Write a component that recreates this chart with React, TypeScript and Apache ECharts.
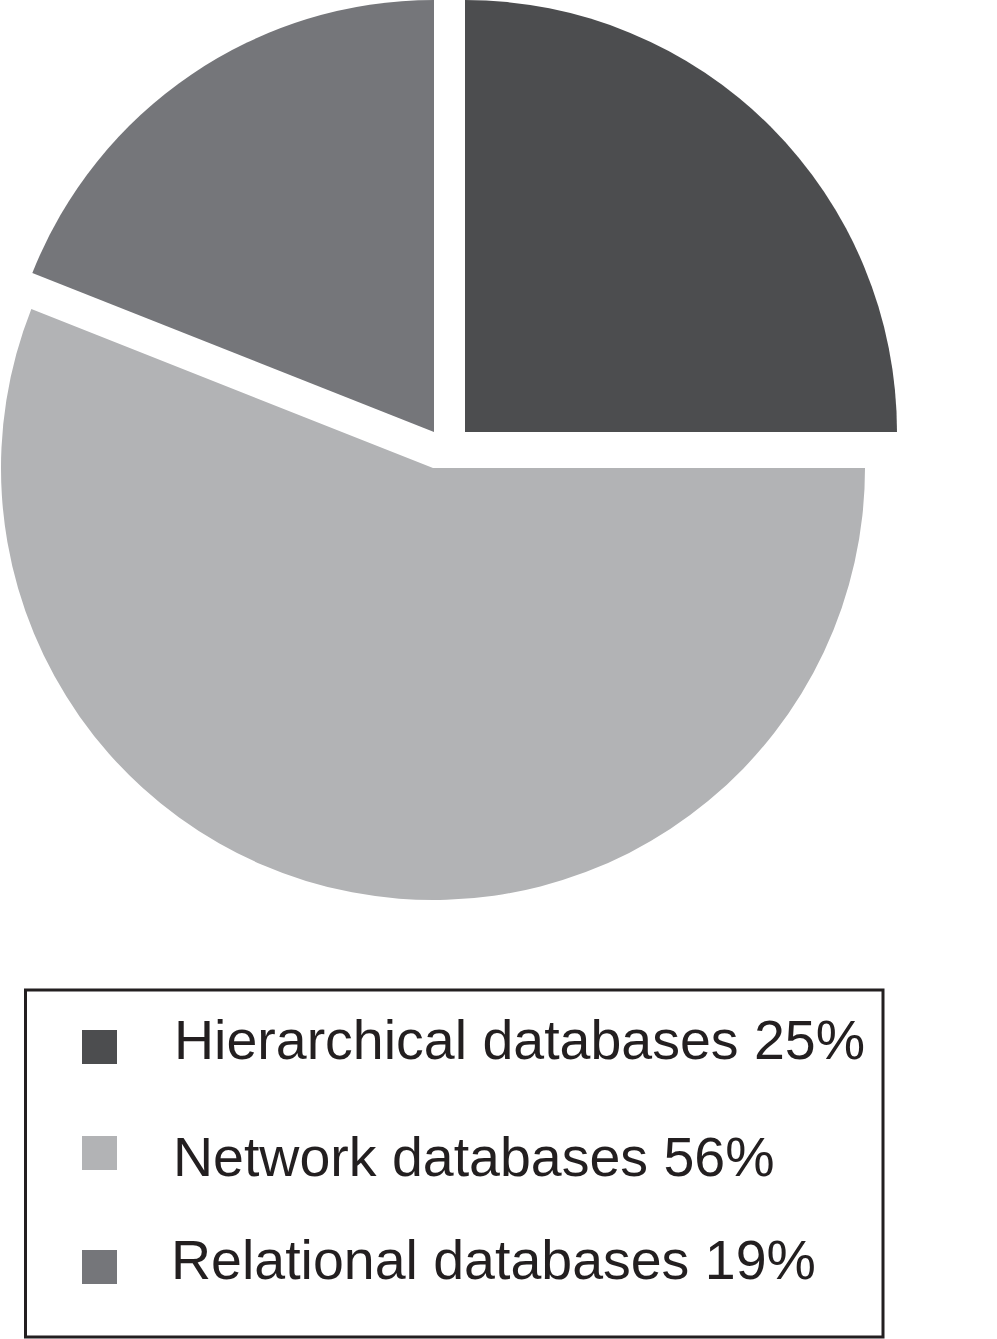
import React, { useEffect, useRef } from "react";
import * as echarts from "echarts";

const categories = ["Hierarchical databases", "Network databases", "Relational databases"];
const percents = [25, 56, 19];
const colors = ["#4c4d4f", "#b2b3b5", "#75767a"];
// each slice is pulled out of the pie on its own
const sliceCenters: [number, number][] = [[465, 432], [433, 468], [434, 432]];
// legend rows: the square sits a little off the text's middle in each row
const legendTops = [1003, 1120, 1223];
const legendIconHeights = [73, 73, 73];
const legendIcons = [
  "path://M0 0M0 73M0 27H35V61H0Z",
  "path://M0 0M0 73M0 16H35V50H0Z",
  "path://M0 0M0 73M0 27H35V61H0Z",
];
const legendTextPads = [52, 51, 49];

export default function App() {
  const ref = useRef<HTMLDivElement>(null);
  useEffect(() => {
    document.body.style.margin = "0";
    const chart = echarts.init(ref.current!, undefined, { renderer: "svg" });
    const series = categories.map((cat, i) => ({
      type: "pie",
      name: cat,
      center: sliceCenters[i],
      radius: [0, 432],
      startAngle: 90,
      clockwise: true,
      label: { show: false },
      labelLine: { show: false },
      emphasis: { disabled: true },
      data: percents.map((v, j) =>
        j === i
          ? { name: categories[j], value: v, itemStyle: { color: colors[j] } }
          : { name: "", value: v, itemStyle: { color: "rgba(0,0,0,0)" } }
      ),
    }));
    const legends = categories.map((cat, i) => ({
      show: true,
      data: [{ name: cat, icon: legendIcons[i], itemStyle: { color: colors[i] } }],
      left: 82,
      top: legendTops[i],
      padding: 0,
      itemWidth: 35,
      itemHeight: legendIconHeights[i],
      selectedMode: false,
      formatter: (name: string) => `${name} ${percents[categories.indexOf(name)]}%`,
      textStyle: {
        fontSize: 55.5,
        lineHeight: 30,
        fontFamily: "Liberation Sans, Arial, Helvetica, sans-serif",
        color: "#231f20",
        padding: [0, 0, 0, legendTextPads[i]],
      },
    }));
    chart.setOption({
      animation: false,
      backgroundColor: "#ffffff",
      legend: legends,
      series,
      graphic: [
        {
          type: "rect",
          shape: { x: 25.5, y: 990, width: 857.5, height: 347 },
          style: { fill: "none", stroke: "#231f20", lineWidth: 3 },
          silent: true,
        },
      ],
    });
    return () => chart.dispose();
  }, []);
  return <div ref={ref} style={{ width: 997, height: 1339 }} />;
}
